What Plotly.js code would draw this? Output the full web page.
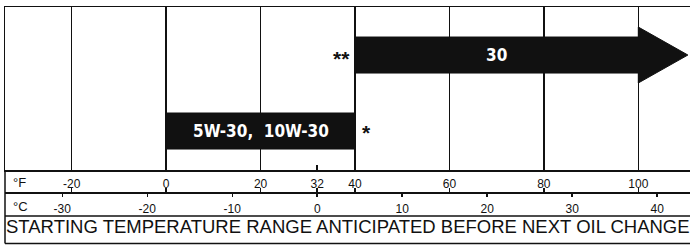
<!DOCTYPE html>
<html>
<head>
<meta charset="utf-8">
<script src="https://cdn.plot.ly/plotly-3.0.1.min.js"></script>
<style>html,body{margin:0;padding:0;background:#fff;}#chart{width:690px;height:247px;}</style>
</head>
<body>
<div id="chart"></div>
<script>
// ---- data ----
const oilGrades = ["5W-30, 10W-30", "30"];
const gradeFromF = [0, 40];
const gradeToF = [40, 100];
const gradeOpenEnded = [false, true];
const gradeRow = [0, 1];
const gradeNote = ["*", "**"];
const gridF = [-20, 0, 20, 40, 60, 80, 100];
const tickF = [-20, 0, 20, 32, 40, 60, 80, 100];
const tickC = [-30, -20, -10, 0, 10, 20, 30, 40];
const captionText = "STARTING TEMPERATURE RANGE ANTICIPATED BEFORE NEXT OIL CHANGE";

// ---- layout constants ----
const W = 690, H = 247;
const mT = 7, mB = 3, mL = 5, mR = 0;
const plotH = H - mT - mB;
const py = p => (H - mB - p) / plotH;   // pixel row -> paper fraction
const fRange = [-34.13, 110.95];
const toC = f => (f - 32) * 5 / 9;
const barHalf = 0.237, headHalf = 0.368, headLen = 10.5;
const ink = "#111";
const sans = "Liberation Sans, Arial, sans-serif";
const narrow = "Liberation Sans Narrow, DejaVu Sans Condensed, Arial Narrow, sans-serif";

const traces = [];
const annotations = [];
oilGrades.forEach((g, i) => {
  const a = gradeFromF[i], b = gradeToF[i], r = gradeRow[i];
  let xs, ys;
  if (gradeOpenEnded[i]) {
    xs = [a, b, b, b + headLen, b, b, a, a];
    ys = [r - barHalf, r - barHalf, r - headHalf, r, r + headHalf, r + barHalf, r + barHalf, r - barHalf];
  } else {
    xs = [a, b, b, a, a];
    ys = [r - barHalf, r - barHalf, r + barHalf, r + barHalf, r - barHalf];
  }
  traces.push({type: "scatter", mode: "lines", x: xs, y: ys, fill: "toself",
    fillcolor: ink, line: {color: ink, width: 1}, hoverinfo: "skip", showlegend: false});
  annotations.push({x: (a + b) / 2, y: r, xref: "x", yref: "y", text: "<b>" + g.replace(", ", ",  ") + "</b>",
    showarrow: false, font: {family: narrow, size: 17, color: "#fff"}});
  if (gradeOpenEnded[i]) {
    annotations.push({x: a, y: r, xref: "x", yref: "y", text: "<b>" + gradeNote[i] + "</b>", xanchor: "right",
      xshift: -3, yshift: -3, showarrow: false, font: {family: sans, size: 21, color: ink}});
  } else {
    annotations.push({x: b, y: r, xref: "x", yref: "y", text: "<b>" + gradeNote[i] + "</b>", xanchor: "left",
      xshift: 5, yshift: -1, showarrow: false, font: {family: sans, size: 21, color: ink}});
  }
});
// dummy traces so the scale axes are attached
traces.push({type: "scatter", mode: "none", x: [tickF[0]], y: [null], xaxis: "x2", yaxis: "y", hoverinfo: "skip", showlegend: false});
traces.push({type: "scatter", mode: "none", x: [tickC[0]], y: [null], xaxis: "x3", yaxis: "y", hoverinfo: "skip", showlegend: false});

annotations.push({xref: "paper", yref: "paper", x: 0, y: py(182), xanchor: "left", yanchor: "middle", xshift: 6,
  text: "°F", showarrow: false, font: {family: sans, size: 13, color: ink}});
annotations.push({xref: "paper", yref: "paper", x: 0, y: py(206), xanchor: "left", yanchor: "middle", xshift: 6,
  text: "°C", showarrow: false, font: {family: sans, size: 13, color: ink}});
annotations.push({xref: "paper", yref: "paper", x: 0.5, y: py(226.5), xanchor: "center", yanchor: "middle",
  text: captionText, showarrow: false, font: {family: sans, size: 18.5, color: ink}});

const lw = 1.5;
const shapes = [
  {type: "line", xref: "paper", yref: "paper", x0: 0, x1: 1, y0: py(216), y1: py(216), line: {color: ink, width: lw}},
  {type: "line", xref: "paper", yref: "paper", x0: 0, x1: 1, y0: py(243.5), y1: py(243.5), line: {color: ink, width: lw}},
  {type: "line", xref: "paper", yref: "paper", x0: 0, x1: 0, y0: py(243.5), y1: py(170), line: {color: ink, width: lw}}
];

const layout = {
  width: W, height: H,
  margin: {t: mT, b: mB, l: mL, r: mR, pad: 0},
  paper_bgcolor: "#fff", plot_bgcolor: "#fff",
  showlegend: false,
  xaxis: {range: fRange, tickvals: gridF, showticklabels: false, ticks: "",
    showgrid: true, gridcolor: ink, gridwidth: lw, zeroline: false,
    showline: true, linecolor: ink, linewidth: lw, mirror: true,
    minor: {tickvals: [32], ticks: "inside", ticklen: 5, tickwidth: lw, tickcolor: ink, showgrid: false},
    fixedrange: true},
  yaxis: {domain: [py(170), 1], range: [-0.513, 1.632], showgrid: false, zeroline: false,
    showticklabels: false, ticks: "", showline: true, linecolor: ink, linewidth: lw, fixedrange: true},
  xaxis2: {overlaying: "x", anchor: "free", position: py(192), side: "top", range: fRange,
    tickvals: tickF, ticktext: tickF.map(String), ticks: "outside", ticklen: 4, tickwidth: lw, tickcolor: ink,
    showgrid: false, zeroline: false, showline: true, linecolor: ink, linewidth: lw, ticklabelstandoff: -5,
    tickfont: {family: sans, size: 12, color: ink}, fixedrange: true},
  xaxis3: {overlaying: "x", anchor: "free", position: py(192), side: "bottom", range: fRange.map(toC),
    tickvals: tickC, ticktext: tickC.map(String), ticks: "outside", ticklen: 4, tickwidth: lw, tickcolor: ink,
    showgrid: false, zeroline: false, showline: false, ticklabelstandoff: 2,
    tickfont: {family: sans, size: 12, color: ink}, fixedrange: true},
  shapes: shapes,
  annotations: annotations
};

Plotly.newPlot("chart", traces, layout, {displayModeBar: false, staticPlot: true});
</script>
</body>
</html>
